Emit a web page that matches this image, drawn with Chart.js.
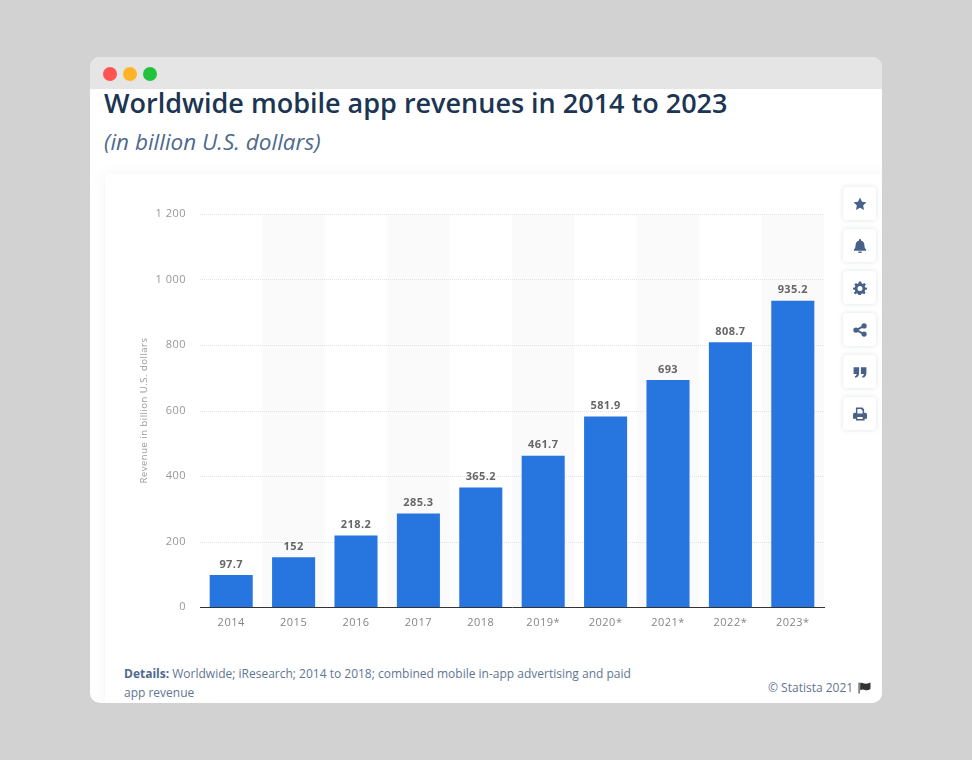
<!DOCTYPE html>
<html>

<head>
    <title>Worldwide mobile app revenues</title>
    <script src="https://cdn.jsdelivr.net/npm/chart.js"></script>
    <style>
        html, body {
            margin: 0;
            height: 100%;
            background: #d2d2d2;
            font-family: "Open Sans", sans-serif;
            overflow: hidden;
        }

        .window {
            position: absolute;
            left: 90px;
            top: 57px;
            width: 792px;
            height: 646px;
            background: #fff;
            border-radius: 10px;
            overflow: hidden;
        }

        .titlebar {
            position: absolute;
            left: 0;
            top: 0;
            width: 100%;
            height: 32px;
            background: #e5e5e5;
            z-index: 2;
        }

        .dot {
            position: absolute;
            top: 10px;
            width: 14px;
            height: 14px;
            border-radius: 50%;
        }

        h1 {
            position: absolute;
            left: 14px;
            top: 27px;
            margin: 0;
            font-size: 27px;
            line-height: 38px;
            font-weight: 600;
            color: #1b3552;
            white-space: nowrap;
        }

        h2 {
            position: absolute;
            left: 14px;
            top: 69px;
            margin: 0;
            font-size: 22.5px;
            line-height: 32px;
            font-weight: 400;
            font-style: italic;
            color: #4f6a8c;
            white-space: nowrap;
        }

        .card {
            position: absolute;
            left: 15px;
            top: 117px;
            width: 777px;
            height: 540px;
            background: #fff;
            border-radius: 4px;
            box-shadow: 0 0 14px rgba(70, 90, 130, 0.07);
        }

        #chartBox {
            position: absolute;
            left: 105px;
            top: 175px;
            width: 740px;
            height: 480px;
        }

        .btn {
            position: absolute;
            left: 843px;
            width: 33px;
            height: 33px;
            background: #fff;
            border-radius: 4px;
            box-shadow: 0 0 5px rgba(60, 80, 110, 0.16);
        }

        .btn svg {
            position: absolute;
            left: 9.500px;
            top: 9.500px;
            width: 14px;
            height: 14px;
            fill: #47618a;
        }

        .details {
            position: absolute;
            left: 124px;
            top: 664px;
            width: 530px;
            font-size: 12px;
            line-height: 19px;
            color: #5f7693;
        }

        .details b {
            color: #4f6a8c;
        }

        .source {
            position: absolute;
            left: 768px;
            top: 680px;
            font-size: 12px;
            line-height: 16px;
            color: #5f7693;
            white-space: nowrap;
        }

        .source svg {
            position: absolute;
            left: 90px;
            top: 2px;
            width: 13px;
            height: 12px;
            fill: #333;
        }
    </style>
</head>

<body>
    <div class="window">
        <h1>Worldwide mobile app revenues in 2014 to 2023</h1>
        <h2>(in billion U.S. dollars)</h2>
        <div class="card"></div>
        <div class="titlebar">
            <div class="dot" style="left:13px;background:#ff5452"></div>
            <div class="dot" style="left:33px;background:#ffb428"></div>
            <div class="dot" style="left:53px;background:#22c33c"></div>
        </div>
    </div>

    <div id="chartBox"><canvas id="graph" width="740" height="480"></canvas></div>

    <div class="btn" style="top:187px"><svg viewBox="0 0 24 24"><path d="M12 1l3.400 7.200 7.600 1-5.600 5.400 1.500 7.800L12 18.600 5.100 22.400l1.500-7.800L1 9.200l7.600-1z"/></svg></div>
    <div class="btn" style="top:229px"><svg viewBox="0 0 24 24"><path d="M12 0a2 2 0 0 1 2 2v1c3.500.8 5.500 3.600 5.500 7 0 5 1.500 6.500 3 8.500v1.500h-21v-1.500c1.500-2 3-3.500 3-8.500 0-3.400 2-6.200 5.500-7V2a2 2 0 0 1 2-2zM9 21.500h6a3 3 0 0 1-6 0z"/></svg></div>
    <div class="btn" style="top:271px"><svg viewBox="0 0 24 24"><path fill-rule="evenodd" d="M10 1h4l.6 3 2.300 1 2.600-1.700 2.800 2.800L20 8.700l1 2.300 3 .6v3l-3 .6-1 2.300 1.700 2.600-2.800 2.800-2.600-1.700-2.300 1-.6 2.800h-4l-.6-2.800-2.300-1-2.600 1.700-2.800-2.800L4 17.500 3 15.200 0 14.600v-3l3-.6 1-2.300-1.700-2.600 2.800-2.800L7.700 5l1.700-1zM12 8.500a4.300 4.300 0 1 0 0 8.600 4.300 4.300 0 0 0 0-8.600z"/></svg></div>
    <div class="btn" style="top:313px"><svg viewBox="0 0 24 24"><circle cx="19" cy="5" r="4.500"/><circle cx="5" cy="12" r="4.500"/><circle cx="19" cy="19" r="4.500"/><path d="M5 10.500L18 3.500l1.500 3L6.500 13.500zM6.500 10.500l13 7-1.500 3-13-7z"/></svg></div>
    <div class="btn" style="top:355px"><svg viewBox="0 0 24 24"><path d="M1 4h9.500v9.500C10.500 18 8 21 4 22l-1-2.500c2-.8 3-2.200 3.200-4H1zM13.500 4H23v9.500c0 4.500-2.500 7.500-6.500 8.500l-1-2.500c2-.8 3-2.200 3.200-4h-5.200z"/></svg></div>
    <div class="btn" style="top:397px"><svg viewBox="0 0 24 24"><path fill-rule="evenodd" d="M5 1h11l3 3v6h2a3 3 0 0 1 3 3v7h-4v3H5v-3H0v-7a3 3 0 0 1 3-3h2zM7.500 3.500V11h9V5.500h-2v-2zM7.500 17v3.500h9V17z"/></svg></div>

    <div class="details"><b>Details:</b> Worldwide; iResearch; 2014 to 2018; combined mobile in-app advertising and paid app revenue</div>
    <div class="source">© Statista 2021<svg viewBox="0 0 24 22"><path d="M1 1h2v20H1zM4 2c4-2 7 2 11 1 3-.5 5-1 8-2v12c-3 2-6 2.500-9 2-3-1-6-2-10 0z"/></svg></div>

    <script>
        const years = ['2014', '2015', '2016', '2017', '2018', '2019*', '2020*', '2021*', '2022*', '2023*'];
        const revenues = [97.7, 152, 218.2, 285.3, 365.2, 461.7, 581.9, 693, 808.7, 935.2];
        const valueLabels = ['97.7', '152', '218.2', '285.3', '365.2', '461.7', '581.9', '693', '808.7', '935.2'];
        const yTickLabels = { 0: '0', 200: '200', 400: '400', 600: '600', 800: '800', 1000: '1 000', 1200: '1 200' };

        // grey band behind every second year
        const bandPlugin = {
            id: 'bands',
            beforeDraw(chart) {
                chart.ctx.letterSpacing = '0.5px';
            },
            beforeDatasetsDraw(chart) {
                const { ctx, chartArea, scales } = chart;
                const step = scales.x.getPixelForValue(1) - scales.x.getPixelForValue(0);
                ctx.save();
                ctx.fillStyle = '#fafafa';
                years.forEach((y, i) => {
                    if (i % 2 === 1) {
                        const x = scales.x.getPixelForValue(i) - step / 2;
                        ctx.fillRect(x, chartArea.top, step, chartArea.height);
                    }
                });
                ctx.restore();
                // gridlines go back on top of the bands
                ctx.save();
                ctx.strokeStyle = '#e2e2e2';
                ctx.setLineDash([1, 1]);
                Object.keys(yTickLabels).forEach(v => {
                    if (+v === 0) return;
                    const y = Math.round(scales.y.getPixelForValue(+v)) + 0.5;
                    ctx.beginPath();
                    ctx.moveTo(chartArea.left, y);
                    ctx.lineTo(chartArea.right, y);
                    ctx.stroke();
                });
                ctx.restore();
            }
        };

        const valueLabelPlugin = {
            id: 'valueLabels',
            afterDatasetsDraw(chart) {
                const { ctx } = chart;
                const bars = chart.getDatasetMeta(0).data;
                ctx.save();
                ctx.font = '700 11px "Open Sans"';
                ctx.fillStyle = '#666';
                ctx.textAlign = 'center';
                ctx.textBaseline = 'bottom';
                ctx.letterSpacing = '0.4px';
                bars.forEach((bar, i) => ctx.fillText(valueLabels[i], bar.x, bar.y - 5));
                ctx.restore();
            }
        };

        const ctx = document.getElementById('graph').getContext('2d');

        new Chart(ctx, {
            type: 'bar',
            data: {
                labels: years,
                datasets: [{
                    data: revenues,
                    backgroundColor: '#2775de',
                    categoryPercentage: 0.69,
                    barPercentage: 1
                }]
            },
            options: {
                responsive: false,
                animation: false,
                devicePixelRatio: 1,
                layout: { padding: { left: 0, right: 21, top: 39, bottom: 0 } },
                plugins: { legend: { display: false }, tooltip: { enabled: false } },
                scales: {
                    x: {
                        grid: { display: false, drawTicks: false },
                        border: { color: '#333', width: 1 },
                        ticks: { color: '#858585', font: { family: 'Open Sans', size: 11 }, padding: 9, maxRotation: 0, autoSkip: false },
                        afterFit(scale) { scale.height = 48; }
                    },
                    y: {
                        min: 0,
                        max: 1200,
                        grid: { display: false, drawTicks: false },
                        border: { display: false },
                        ticks: {
                            stepSize: 200,
                            color: '#999',
                            font: { family: 'Open Sans', size: 11 },
                            padding: 14,
                            callback: v => yTickLabels[v]
                        },
                        title: {
                            display: true,
                            text: 'Revenue in billion U.S. dollars',
                            color: '#999',
                            font: { family: 'Open Sans', size: 9.5 },
                            padding: { top: 34, bottom: 0 }
                        },
                        afterFit(scale) { scale.width = 95; }
                    }
                }
            },
            plugins: [bandPlugin, valueLabelPlugin]
        });
    </script>
</body>

</html>
